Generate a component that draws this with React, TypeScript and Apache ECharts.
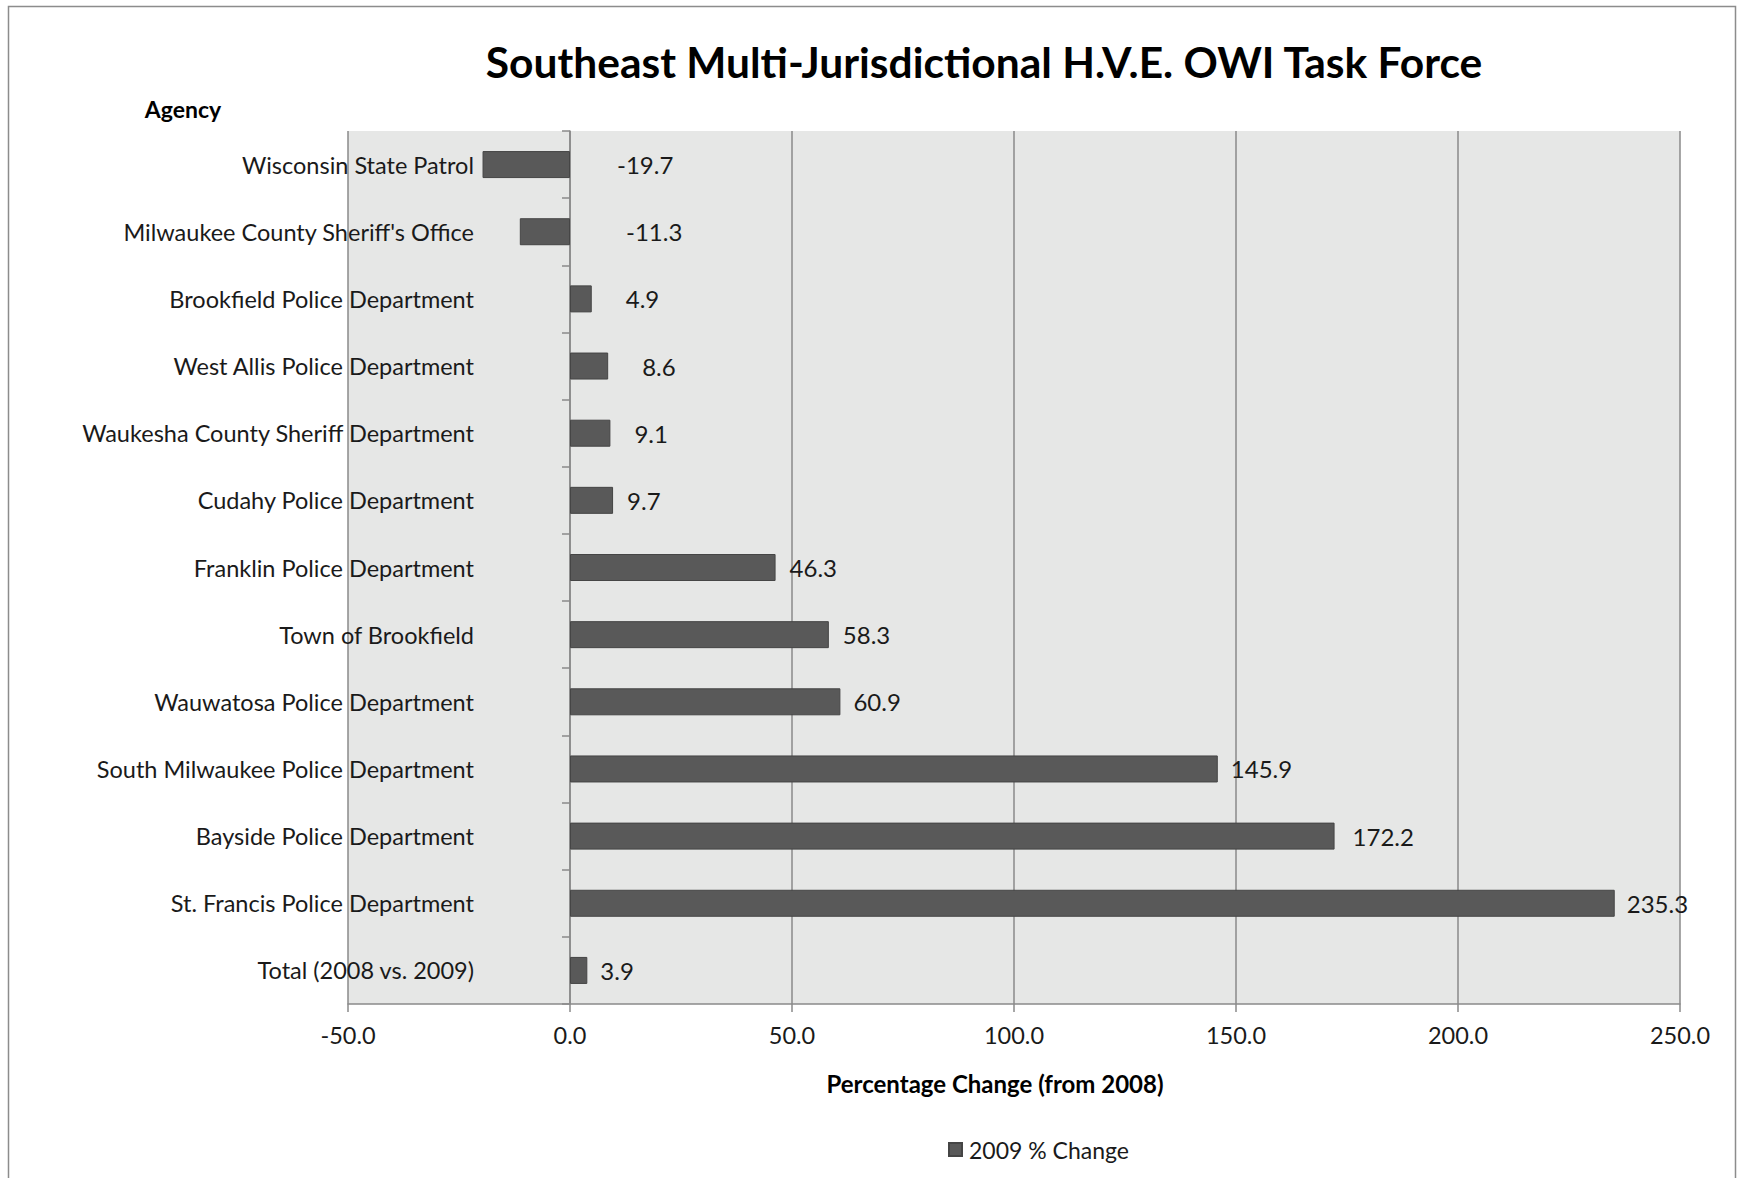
import React, { useEffect, useRef } from "react";
import * as echarts from "echarts";

const agencies = [
  "Wisconsin State Patrol",
  "Milwaukee County Sheriff's Office",
  "Brookfield Police Department",
  "West Allis Police Department",
  "Waukesha County Sheriff Department",
  "Cudahy Police Department",
  "Franklin Police Department",
  "Town of Brookfield",
  "Wauwatosa Police Department",
  "South Milwaukee Police Department",
  "Bayside Police Department",
  "St. Francis Police Department",
  "Total (2008 vs. 2009)",
];

const change2009 = [-19.7, -11.3, 4.9, 8.6, 9.1, 9.7, 46.3, 58.3, 60.9, 145.9, 172.2, 235.3, 3.9];

const xTicks = [-50, 0, 50, 100, 150, 200, 250];

// style only: gap between bar end and its value label, as placed in the original
const labelGap = [47, 56, 34, 34, 24, 14, 14, 14, 13, 13, 18, 12, 13];

const FONT = "Lato";

export default function App() {
  const ref = useRef<HTMLDivElement>(null);

  useEffect(() => {
    if (!ref.current) return;
    const chart = echarts.init(ref.current, null, { renderer: "svg" });
    const gridLeft = 348;
    const gridTop = 131;
    const gridW = 1332;
    const gridH = 873;

    const option: any = {
      animation: false,
      backgroundColor: "#ffffff",
      textStyle: { fontFamily: FONT, color: "#1a1a1a" },
      grid: {
        left: gridLeft,
        top: gridTop,
        width: gridW,
        height: gridH,
        show: true,
        backgroundColor: "#e6e7e6",
        borderWidth: 0,
      },
      legend: {
        show: true,
        left: 948,
        top: 1138,
        padding: 0,
        icon: "rect",
        itemWidth: 13,
        itemHeight: 13,
        textStyle: { fontFamily: FONT, fontSize: 23, color: "#1a1a1a", padding: [0, 0, 0, 2] },
        data: ["2009 % Change"],
      },
      xAxis: {
        type: "value",
        min: xTicks[0],
        max: xTicks[xTicks.length - 1],
        interval: 50,
        axisLine: { show: true, onZero: false, lineStyle: { color: "#8a8a8a", width: 1.5 } },
        axisTick: { show: true, length: 8, lineStyle: { color: "#8a8a8a", width: 1.5 } },
        splitLine: { show: true, lineStyle: { color: "#8a8a8a", width: 1.5 } },
        axisLabel: {
          margin: 19,
          fontFamily: FONT,
          fontSize: 23.5,
          color: "#1a1a1a",
          formatter: (v: number) => v.toFixed(1),
        },
      },
      yAxis: [
        {
          type: "category",
          data: agencies,
          inverse: true,
          axisLine: { show: false, onZero: false },
          axisTick: { show: false },
          splitLine: { show: false },
          axisLabel: {
            margin: -126,
            fontFamily: FONT,
            fontSize: 23.5,
            color: "#1a1a1a",
            align: "right",
            padding: [0, 0, 4, 0],
          },
        },
        {
          type: "category",
          data: agencies,
          inverse: true,
          position: "left",
          axisLine: { show: true, onZero: true, lineStyle: { color: "#8a8a8a", width: 1.5 } },
          axisTick: { show: true, length: 8, lineStyle: { color: "#8a8a8a", width: 1.5 } },
          splitLine: { show: false },
          axisLabel: { show: false },
        },
      ],
      series: [
        {
          name: "2009 % Change",
          type: "bar",
          yAxisIndex: 0,
          barWidth: 27,
          itemStyle: { color: "#595959", borderColor: "#454545", borderWidth: 1 },
          label: {
            show: true,
            position: "right",
            fontFamily: FONT,
            fontSize: 24,
            color: "#1a1a1a",
            formatter: (p: any) => Number(p.value).toFixed(1),
          },
          data: change2009.map((v, i) => ({
            value: v,
            label: { distance: labelGap[i] },
          })),
        },
      ],
      graphic: [
        {
          type: "rect",
          silent: true,
          z: -1,
          shape: { x: 8.5, y: 6.5, width: 1727, height: 1200 },
          style: { fill: "none", stroke: "#8c8c8c", lineWidth: 1.5 },
        },
        {
          type: "text",
          x: 984,
          y: 61,
          style: {
            text: "Southeast Multi-Jurisdictional H.V.E. OWI Task Force",
            fontFamily: FONT,
            fontWeight: "bold",
            fontSize: 42.5,
            fill: "#000000",
            textAlign: "center",
            textVerticalAlign: "middle",
          },
        },
        {
          type: "text",
          x: 183,
          y: 109,
          style: {
            text: "Agency",
            fontFamily: FONT,
            fontWeight: "bold",
            fontSize: 23,
            fill: "#000000",
            textAlign: "center",
            textVerticalAlign: "middle",
          },
        },
        {
          type: "text",
          x: 995,
          y: 1083,
          style: {
            text: "Percentage Change (from 2008)",
            fontFamily: FONT,
            fontWeight: "bold",
            fontSize: 24,
            fill: "#000000",
            textAlign: "center",
            textVerticalAlign: "middle",
          },
        },
      ],
    };

    chart.setOption(option);
    return () => chart.dispose();
  }, []);

  return (
    <div
      ref={ref}
      style={{ position: "fixed", left: 0, top: 0, width: 1737, height: 1178 }}
    />
  );
}
